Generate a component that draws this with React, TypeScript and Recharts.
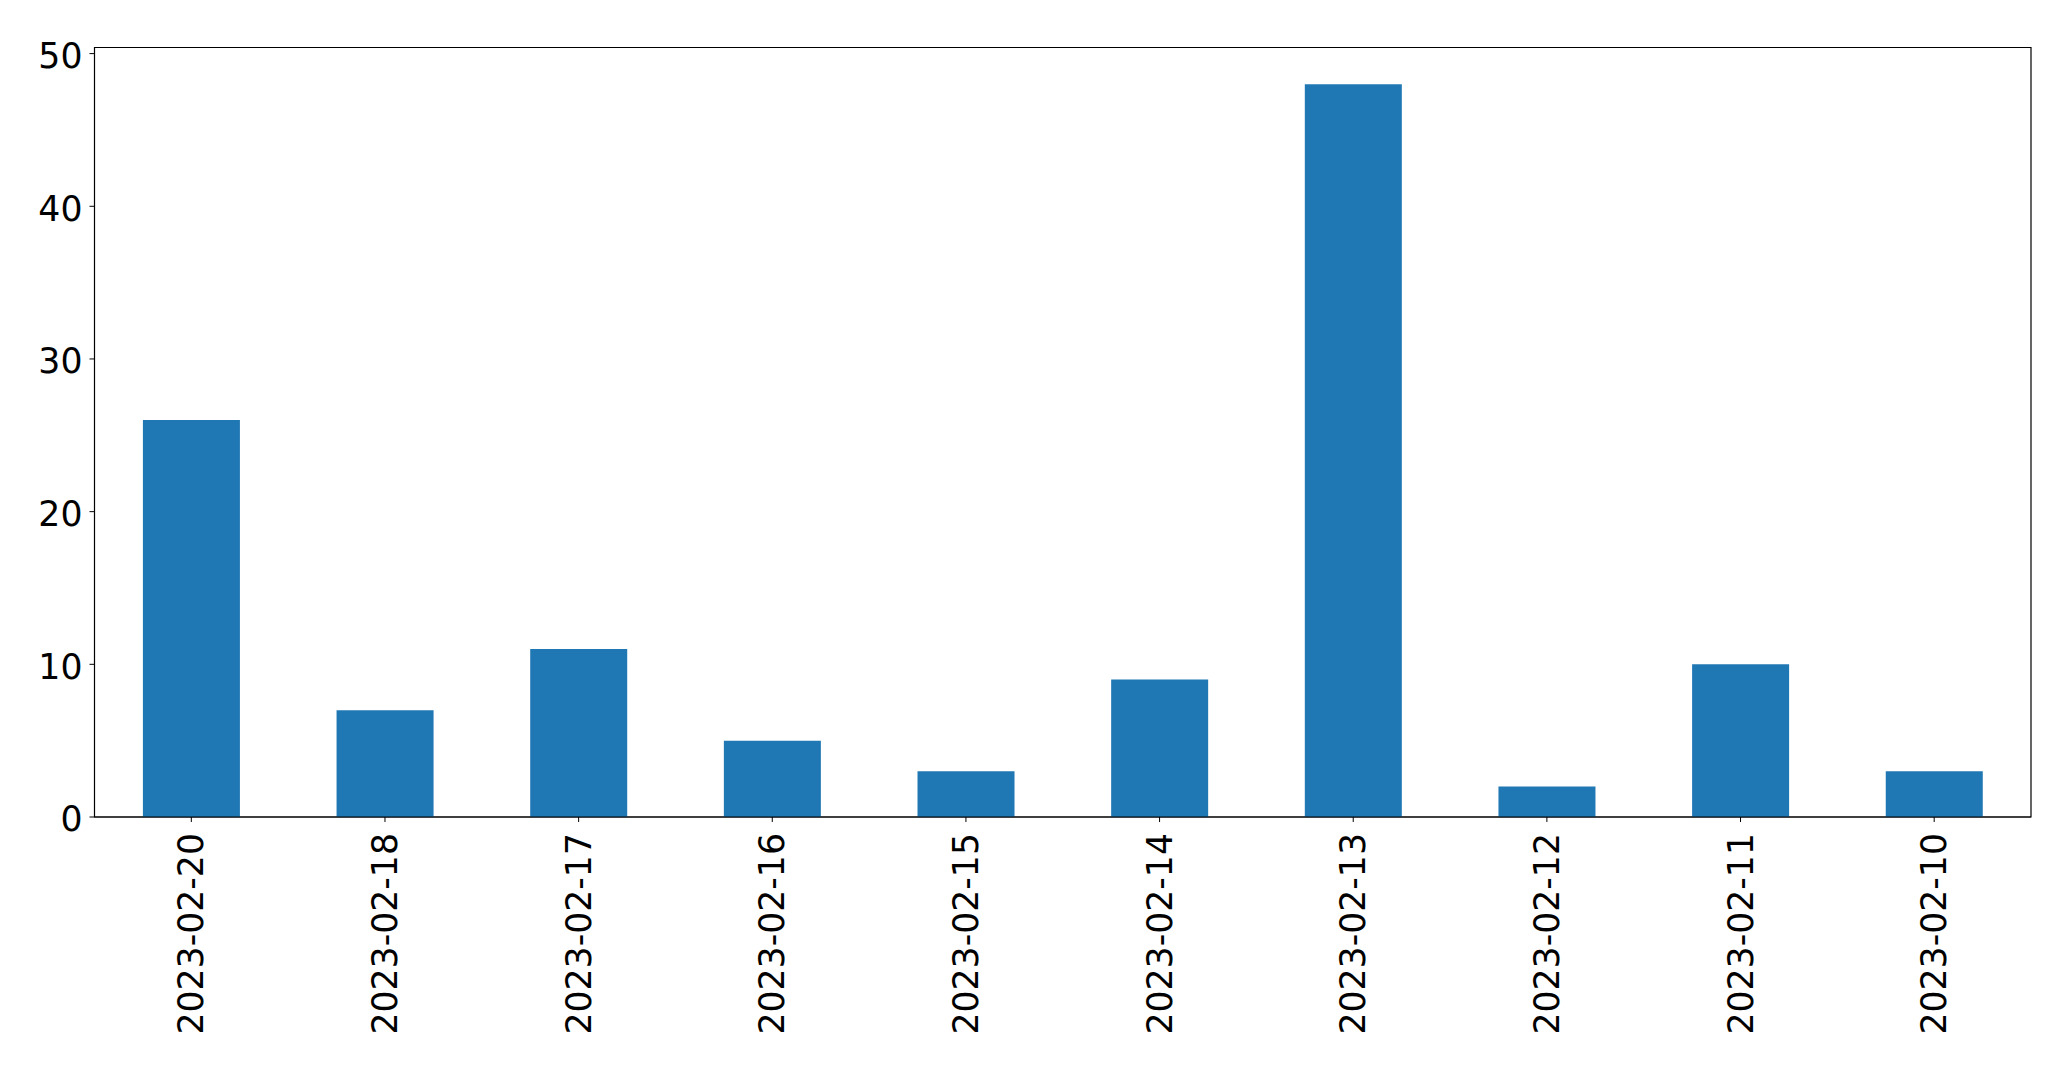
import { BarChart, Bar, XAxis, YAxis, ReferenceArea } from "recharts";

const dates = [
  "2023-02-20",
  "2023-02-18",
  "2023-02-17",
  "2023-02-16",
  "2023-02-15",
  "2023-02-14",
  "2023-02-13",
  "2023-02-12",
  "2023-02-11",
  "2023-02-10",
];
const counts = [26, 7, 11, 5, 3, 9, 48, 2, 10, 3];
const yTicks = [0, 10, 20, 30, 40, 50];

const data = dates.map((d, i) => ({ date: d, count: counts[i] }));

const FONT = "DejaVu Sans, sans-serif";

const DateTick = (props: any) => {
  const { x, y, payload } = props;
  return (
    <g transform={`translate(${x},${y})`}>
      <text
        transform="rotate(-90)"
        x={-9}
        y={0}
        dy="0.35em"
        textAnchor="end"
        fontSize={34.7}
        fontFamily={FONT}
        fill="#000"
      >
        {payload.value}
      </text>
    </g>
  );
};

const App = () => {
  return (
    <div style={{ position: "absolute", left: 0, top: 0, background: "#fff" }}>
      <BarChart
        width={2071}
        height={1069}
        data={data}
        margin={{ top: 47.5, right: 40, bottom: 0, left: 0 }}
        barCategoryGap="25%"
      >
        <XAxis
          dataKey="date"
          height={252}
          interval={0}
          tick={<DateTick />}
          tickSize={5}
          tickLine={{ stroke: "#000" }}
          axisLine={{ stroke: "#000" }}
        />
        <YAxis
          width={94.5}
          domain={[0, 50.4]}
          ticks={yTicks}
          tickSize={5}
          tickMargin={7}
          tick={{ fontSize: 34.7, fill: "#000", fontFamily: FONT, dy: 2 }}
          tickLine={{ stroke: "#000" }}
          axisLine={{ stroke: "#000" }}
        />
        <Bar dataKey="count" fill="#1f77b4" isAnimationActive={false} />
        <ReferenceArea y1={0} y2={50.4} fill="none" stroke="#000" strokeWidth={1.2} ifOverflow="extendDomain" />
      </BarChart>
    </div>
  );
};

export default App;
